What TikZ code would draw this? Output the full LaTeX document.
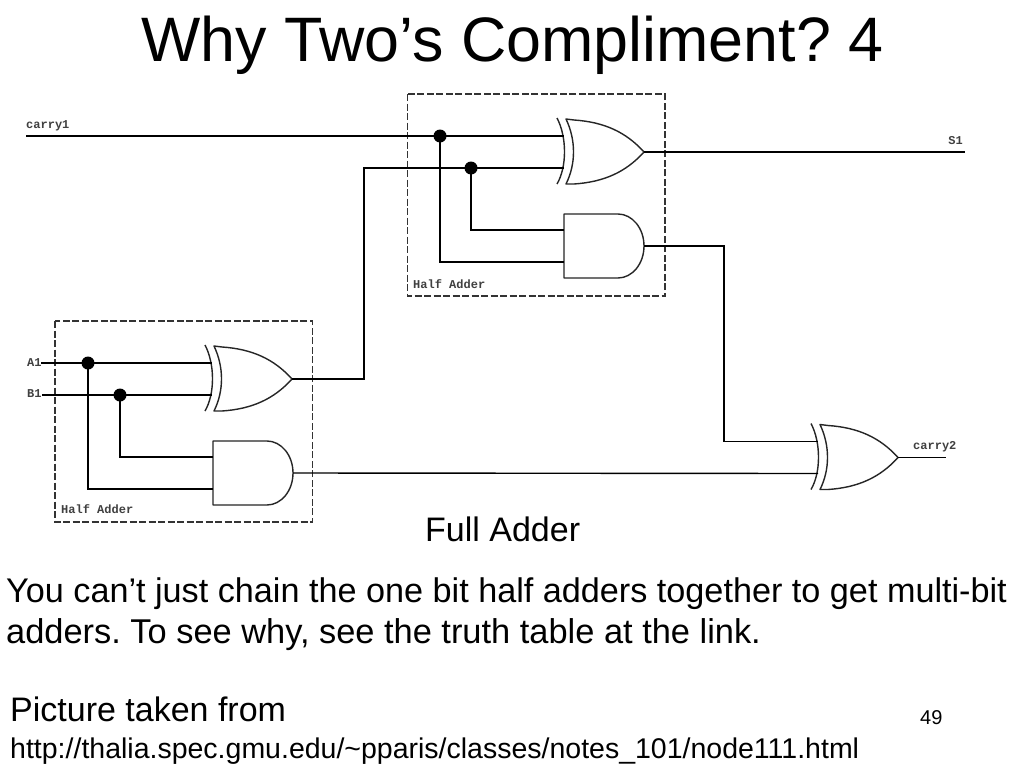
\documentclass[tikz,border=0pt]{standalone}
\usepackage{fontspec}
\setmainfont{Liberation Sans}
\newfontfamily\wirefont{Liberation Mono}[BoldFont={Liberation Mono Bold}]
\frenchspacing
\tikzset{
  x=1pt,y=-1pt,
  wire/.style={draw=black,line width=1.4pt,line join=miter},
  gateline/.style={draw=black!85,line width=1.4pt,line join=round},
  dashbox/.style={draw=black!80,line width=1.3pt,dash pattern=on 7pt off 2.5pt,fill=none,inner sep=0pt},
  junction/.style={circle,fill=black,draw=none,minimum size=13pt,inner sep=0pt},
  wirelabel/.style={font=\wirefont\bfseries\fontsize{12}{12}\selectfont,text=black!75,inner sep=0pt},
  slidetext/.style={anchor=base west,inner sep=0pt,text=black},
  xorgate/.pic={
    \draw[gateline] (-87,-34) .. controls (-77,-15) and (-77,15) .. (-87,32);
    \draw[gateline] (-70,-32) -- (-78,-33) .. controls (-68,-12) and (-68,12) .. (-78,32) -- (-70,32)
      .. controls (-40,30) and (-18,20) .. (0,0) .. controls (-18,-20) and (-40,-30) .. (-70,-32);
    \coordinate (-in1) at (-80,-16);
    \coordinate (-in2) at (-80,16);
    \coordinate (-out) at (0,0);
  },
  andgate/.pic={
    \draw[gateline] (-26,-32) -- (-80,-32) -- (-80,32) -- (-26,32)
      .. controls (-12,32) and (0,18) .. (0,0) .. controls (0,-18) and (-12,-32) .. (-26,-32);
    \coordinate (-in1) at (-80,-16);
    \coordinate (-in2) at (-80,16);
    \coordinate (-out) at (0,0);
  }
}
\begin{document}
\begin{tikzpicture}
\path[use as bounding box,fill=white] (0,0) rectangle (1024,768);

% Texts
\node[slidetext,font=\fontsize{62.8}{62.8}\selectfont] (title) at (141,62) {Why Two’s Compliment? 4};
\node[slidetext,font=\fontsize{34}{34}\selectfont] (full) at (425,541) {Full Adder};
\node[slidetext,font=\fontsize{34.2}{34.2}\selectfont] (l1) at (6,602) {You can’t just chain the one bit half adders together to get multi-bit};
\node[slidetext,font=\fontsize{34.4}{34.4}\selectfont] (l2) at (6,643) {adders. To see why, see the truth table at the link.};
\node[slidetext,font=\fontsize{34}{34}\selectfont] (p1) at (10,721) {Picture taken from};
\node[slidetext,font=\fontsize{28.5}{28.5}\selectfont] (p2) at (10,758) {http://thalia.spec.gmu.edu/\textasciitilde pparis/classes/notes\_101/node111.html};
\node[slidetext,font=\fontsize{20}{20}\selectfont] (num) at (920,724) {49};

% Half adder boxes
\draw[dashbox] (407.5,94) rectangle (665,296);
\draw[dashbox] (55,321) rectangle (312.5,522);

% Gates
\pic (xa) at (644,152) {xorgate};
\pic (aa) at (644,246) {andgate};
\pic (xb) at (292,379) {xorgate};
\pic (ab) at (293,473) {andgate};
\pic (xc) at (898,457.5) {xorgate};

% Free ends
\coordinate (c1) at (26,136);
\coordinate (s1) at (965,152);
\coordinate (a1) at (41,363);
\coordinate (b1) at (42,395);
\coordinate (c2) at (946,457.5);

% Junctions
\node[junction] (ja) at (440,136) {};
\node[junction] (jb) at (471,168) {};
\node[junction] (jc) at (88,363) {};
\node[junction] (jd) at (120,395) {};

% Wires
\draw[wire] (c1) -- (xa-in1);
\draw[wire] (xb-out) -- (364,379) -- (364,168) -- (xa-in2);
\draw[wire] (xa-out) -- (s1);
\draw[wire] (ja.center) |- (aa-in2);
\draw[wire] (jb.center) |- (aa-in1);
\draw[wire] (aa-out) -- (724,246) -- (724,441.5) -- (xc-in1);
\draw[wire] (a1) -- (xb-in1);
\draw[wire] (b1) -- (xb-in2);
\draw[wire] (jc.center) |- (ab-in2);
\draw[wire] (jd.center) |- (ab-in1);
\draw[wire] (ab-out) -- (xc-in2);
\draw[wire] (xc-out) -- (c2);

% Wire labels
\node[wirelabel,anchor=west] (lc1) at (26,126) {carry1};
\node[wirelabel,anchor=east] (ls1) at (963,141) {S1};
\node[wirelabel,anchor=west] (la1) at (27,363) {A1};
\node[wirelabel,anchor=west] (lb1) at (27,394) {B1};
\node[wirelabel,anchor=west] (lc2) at (913,447) {carry2};
\node[wirelabel,anchor=west] (lh1) at (413,284) {Half Adder};
\node[wirelabel,anchor=west] (lh2) at (61,509) {Half Adder};
\end{tikzpicture}
\end{document}
